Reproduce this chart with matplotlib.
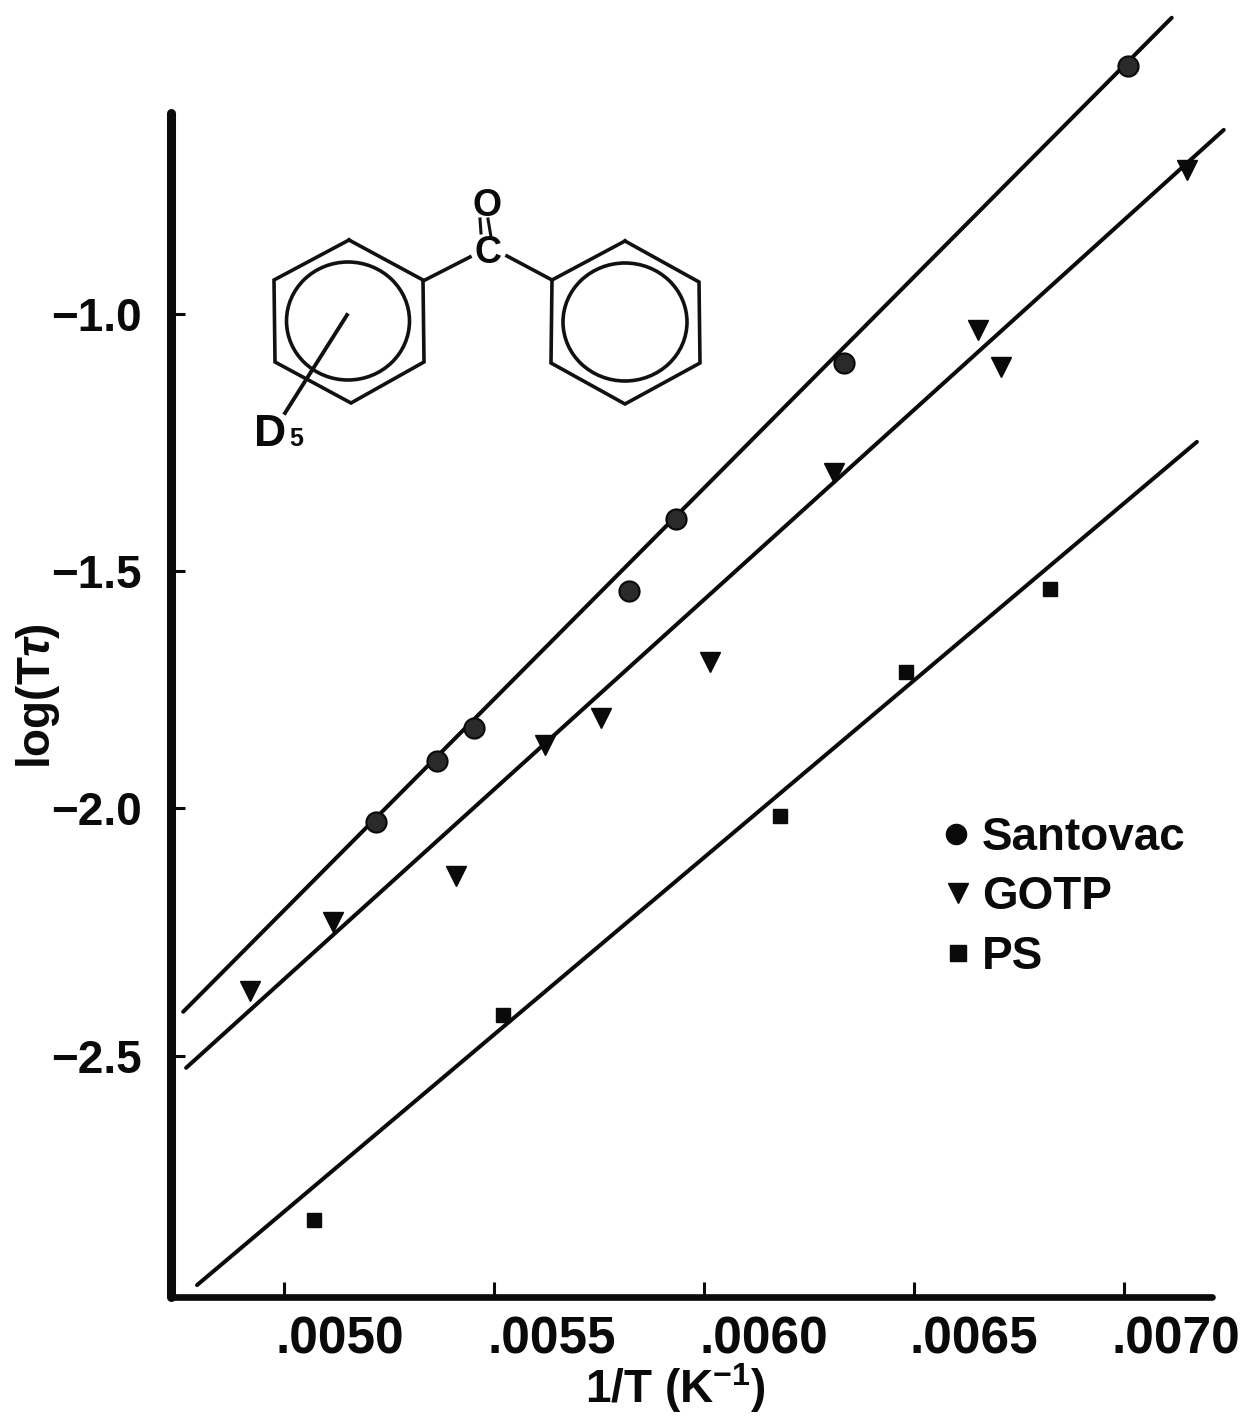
import matplotlib
matplotlib.use('Agg')
import matplotlib.pyplot as plt
from matplotlib.patches import Ellipse
from matplotlib.transforms import ScaledTranslation

plt.rcParams['font.family'] = ['Liberation Sans', 'DejaVu Sans']
plt.rcParams['font.weight'] = 'bold'
plt.rcParams['mathtext.fontset'] = 'custom'
plt.rcParams['mathtext.rm'] = 'Liberation Sans:bold'
plt.rcParams['mathtext.it'] = 'Liberation Sans:italic'
plt.rcParams['mathtext.bf'] = 'Liberation Sans:bold'

# points
santovac_x = [.005219, .005364, .005452, .005821, .005933, .006333, .007010]
santovac_y = [-2.026, -1.903, -1.837, -1.560, -1.415, -1.101, -0.502]
gotp_x = [.004919, .005117, .005410, .005621, .005755, .006014, .006310, .006652, .006707, .007150]
gotp_y = [-2.367, -2.228, -2.135, -1.871, -1.817, -1.704, -1.323, -1.034, -1.109, -0.712]
ps_x = [.005071, .005521, .006181, .006481, .006824]
ps_y = [-2.829, -2.415, -2.014, -1.724, -1.556]

# fitted lines, two ends each
fit1_x = [.004760, .007114]
fit1_y = [-2.409, -0.405]
fit2_x = [.004767, .007238]
fit2_y = [-2.522, -0.631]
fit3_x = [.004793, .007174]
fit3_y = [-2.960, -1.260]

xtick_pos = [.0050, .0055, .0060, .0065, .0070]
xtick_labels = ['.0050', '.0055', '.0060', '.0065', '.0070']
# the y ticks are not evenly spaced in the original drawing
ytick_pos = [-1.002, -1.520, -1.998, -2.498]
ytick_labels = ['\u22121.0', '\u22121.5', '\u22122.0', '\u22122.5']

W, H = 1244, 1416
fig = plt.figure(figsize=(W / 100, H / 100), dpi=100)
ax = fig.add_axes([171 / W, 1 - 1297 / H, (1212 - 171) / W, (1297 - 113) / H])
ax.set_xlim(.004731, .007210)
ax.set_ylim(-2.984, -0.597)

for fx, fy in [(fit1_x, fit1_y), (fit2_x, fit2_y), (fit3_x, fit3_y)]:
    ax.plot(fx, fy, color='#0a0a0a', lw=2.9, solid_capstyle='round', clip_on=False)

ax.plot(santovac_x, santovac_y, 'o', ms=14.5, mfc='#2a2a2a', mec='#0a0a0a', mew=1.5, clip_on=False, zorder=3)
ax.plot(gotp_x, gotp_y, 'v', ms=14, color='#0a0a0a', clip_on=False, zorder=3)
ax.plot(ps_x, ps_y, 's', ms=10.5, color='#0a0a0a', clip_on=False, zorder=3)

for s in ['top', 'right']:
    ax.spines[s].set_visible(False)
ax.spines['left'].set_linewidth(6.5)
ax.spines['bottom'].set_linewidth(4.8)
ax.spines['left'].set_capstyle('round')
ax.spines['bottom'].set_capstyle('round')
ax.spines['left'].set_color('#0a0a0a')
ax.spines['bottom'].set_color('#0a0a0a')

ax.set_xticks(xtick_pos)
ax.set_xticklabels(xtick_labels, fontsize=37, fontweight='bold', color='#0a0a0a')
ax.set_yticks(ytick_pos)
ax.set_yticklabels(ytick_labels, fontsize=33, fontweight='bold', color='#0a0a0a')
ax.tick_params(axis='x', direction='in', length=11, width=2.2, pad=13, color='#0a0a0a')
ax.tick_params(axis='y', direction='in', length=10, width=2.2, pad=21, color='#0a0a0a')
# x labels sit to the right of their ticks in the original, not all by the same amount
xlabel_shift = [56, 58, 60, 60, 52]
for lab, dx in zip(ax.get_xticklabels(), xlabel_shift):
    lab.set_transform(lab.get_transform() + ScaledTranslation(dx / 100, 0, fig.dpi_scale_trans))

# overlay in pixel coordinates for drawing, legend and axis titles
ov = fig.add_axes([0, 0, 1, 1])
ov.set_xlim(0, W)
ov.set_ylim(H, 0)
ov.axis('off')
ov.patch.set_alpha(0)

ov.text(38, 696, 'log(T$\\tau$)', rotation=90, ha='center', va='center', fontsize=33, color='#0a0a0a')
ov.text(675, 1403, '1/T (K$^{-1}$)', ha='center', va='baseline', fontsize=33, color='#0a0a0a')

# molecule
hex_left = [(349, 240), (423, 280), (424, 362), (351, 403), (275, 362), (274, 280), (349, 240)]
hex_right = [(625, 241), (699, 282), (700, 363), (625, 404), (551, 363), (552, 280), (625, 241)]
for h in (hex_left, hex_right):
    ov.plot([p[0] for p in h], [p[1] for p in h], color='#111111', lw=2.6, solid_joinstyle='miter')
ov.add_patch(Ellipse((348, 321), 123, 118, fill=False, ec='#111111', lw=2.6))
ov.add_patch(Ellipse((625, 322), 124, 118, fill=False, ec='#111111', lw=2.6))
ov.plot([425, 470], [280, 257], color='#111111', lw=2.6)
ov.plot([507, 552], [256, 280], color='#111111', lw=2.6)
ov.plot([480, 481], [219, 233], color='#111111', lw=2.2)
ov.plot([488, 491], [219, 237], color='#111111', lw=2.2)
ov.plot([347, 285], [315, 413], color='#111111', lw=2.8)
ov.text(487, 206, 'O', ha='center', va='center', fontsize=27, color='#0a0a0a')
ov.text(488, 253, 'C', ha='center', va='center', fontsize=27, color='#0a0a0a')
ov.text(254, 446, 'D', ha='left', va='baseline', fontsize=32, color='#0a0a0a')
ov.text(289, 446, '5', ha='left', va='baseline', fontsize=18, color='#0a0a0a')

# legend
leg_y = [834, 893, 953]
leg_names = ['Santovac', 'GOTP', 'PS']
ov.plot(956, leg_y[0], 'o', ms=14.5, color='#0a0a0a')
ov.plot(958, leg_y[1], 'v', ms=14, color='#0a0a0a')
ov.plot(958, leg_y[2], 's', ms=12, color='#0a0a0a')
for yy, name in zip(leg_y, leg_names):
    ov.text(982, yy + 4, name, ha='left', va='center', fontsize=33, color='#0a0a0a')

fig.savefig('out.png', dpi=100, facecolor='white')
